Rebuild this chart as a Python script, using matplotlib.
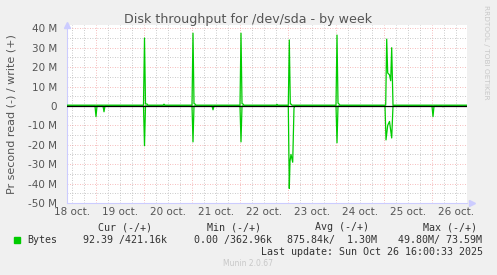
import matplotlib.pyplot as plt
from matplotlib.ticker import MultipleLocator, FuncFormatter

W, H = 497, 275

# time axis in hours since 18 oct 00:00
t_start = 9.5
t_end = 209.5
day_labels = ["18 oct.", "19 oct.", "20 oct.", "21 oct.", "22 oct.",
              "23 oct.", "24 oct.", "25 oct.", "26 oct."]

# write (+) in M bytes/s, read as points in time (hours)
write_t = [9.5, 47.75, 48.25, 48.75, 49.5, 50.0, 57.5, 58.0, 58.5,
           72.0, 72.5, 73.0, 73.5, 74.0, 96.0, 96.5, 97.0, 97.5, 98.0,
           114.0, 114.5, 115.0, 120.15, 120.65, 121.15, 121.5, 122.0,
           144.0, 144.5, 145.0, 145.5, 146.0,
           168.85, 169.35, 169.85, 170.75, 171.35, 171.85, 172.5,
           209.5]
write_v = [0.4, 0.4, 35.0, 1.0, 1.0, 0.4, 0.4, 0.9, 0.4,
           0.4, 37.5, 1.2, 1.0, 0.4, 0.4, 37.5, 1.2, 1.0, 0.4,
           0.4, 0.8, 0.4, 0.4, 34.0, 1.0, 1.0, 0.4,
           0.4, 36.5, 1.5, 1.0, 0.4,
           0.4, 34.4, 17.0, 16.0, 13.0, 30.0, 0.4,
           0.4]

read_t = [9.5, 23.5, 24.0, 24.5, 27.5, 28.0, 28.5,
          47.75, 48.25, 48.75, 72.0, 72.5, 73.0, 82.0, 82.5, 83.0,
          96.0, 96.5, 97.0, 120.15, 120.65, 121.0, 121.5, 122.35, 123.0, 123.5,
          144.0, 144.5, 145.0, 168.5, 169.0, 169.85, 170.75, 171.85, 172.5,
          192.0, 192.5, 193.0, 197.0, 197.5, 198.0, 209.5]
read_v = [0.0, 0.0, -5.5, 0.0, 0.0, -3.0, 0.0,
          0.0, -20.5, 0.0, 0.0, -18.5, 0.0, 0.0, -2.0, 0.0,
          0.0, -18.5, 0.0, 0.0, -42.5, -28.5, -25.0, -29.0, -1.0, 0.0,
          0.0, -19.0, 0.0, 0.0, -17.5, -10.0, -8.0, -16.5, 0.0,
          0.0, -5.5, 0.0, 0.0, -0.4, 0.0, 0.0]

header = ["Cur (-/+)", "Min (-/+)", "Avg (-/+)", "Max (-/+)"]
header_x = [98, 207, 315, 423]
row_vals = ["92.39 /421.16k", "0.00 /362.96k", "875.84k/  1.30M", "49.80M/ 73.59M"]
row_x = [83, 194, 287, 398]

green = "#00CC00"
txt = "#555555"


def px(x, y):
    return x / W, 1 - y / H


fig = plt.figure(figsize=(W / 100, H / 100), dpi=100, facecolor="#F0F0F0")
left, right, top, bottom = 67, 467, 25, 203
ax = fig.add_axes([left / W, 1 - bottom / H, (right - left) / W, (bottom - top) / H])
ax.set_facecolor("white")

ax.plot(write_t, write_v, color=green, lw=0.9, zorder=3)
ax.plot(read_t, read_v, color=green, lw=0.9, zorder=3)
ax.axhline(0, color="black", lw=0.9, zorder=4)

ax.set_xlim(t_start, t_end)
ax.set_ylim(-50, 41.7)

ax.yaxis.set_major_locator(MultipleLocator(10))
ax.yaxis.set_minor_locator(MultipleLocator(5))
ax.yaxis.set_major_formatter(FuncFormatter(lambda v, p: "0" if abs(v) < 1e-9 else "%d M" % v))
ax.xaxis.set_major_locator(MultipleLocator(24))
ax.xaxis.set_minor_locator(MultipleLocator(6))
ax.set_xticklabels([])

ax.grid(which="minor", color="#b8b8b8", ls=(0, (1, 2)), lw=0.6, zorder=1)
ax.grid(which="major", color="#f09090", ls=(0, (1, 2)), lw=0.6, zorder=2, alpha=0.8)
ax.tick_params(which="both", length=0, labelsize=7.5, labelcolor=txt, pad=7)

for i, lab in enumerate(day_labels):
    ax.text(12 + 24 * i, -52.3, lab, ha="center", va="top", fontsize=7.5, color=txt)

for s in ["top", "right"]:
    ax.spines[s].set_visible(False)
for s in ["left", "bottom"]:
    ax.spines[s].set_color("#ccccff")
    ax.spines[s].set_linewidth(0.8)
ax.plot(1.012, 0, marker=">", color="#ccccff", ms=5, transform=ax.transAxes, clip_on=False)
ax.plot(0, 1.0, marker="^", color="#ccccff", ms=5, transform=ax.transAxes, clip_on=False)

fig.text(*px(248, 19), "Disk throughput for /dev/sda - by week", ha="center", va="center",
         fontsize=9.1, color=txt)
fig.text(*px(12, 114), "Pr second read (-) / write (+)", rotation=90, ha="center",
         va="center", fontsize=8.0, color=txt)
fig.text(*px(486, 5), "RRDTOOL / TOBI OETIKER", rotation=270, ha="center", va="top",
         fontsize=5.3, color="#c8c8c8")

mono = "DejaVu Sans Mono"
for h, x in zip(header, header_x):
    fig.text(*px(x, 227), h, ha="left", va="center", family=mono, fontsize=7.2, color="#333333")
fig.patches.append(plt.Rectangle(px(14, 243), 6 / W, 6 / H, color=green,
                                 transform=fig.transFigure, figure=fig))
fig.text(*px(27, 240), "Bytes", ha="left", va="center", family=mono, fontsize=7.2, color="#333333")
for v, x in zip(row_vals, row_x):
    fig.text(*px(x, 240), v, ha="left", va="center", family=mono, fontsize=7.2, color="#333333")
fig.text(*px(483, 252), "Last update: Sun Oct 26 16:00:33 2025", ha="right", va="center",
         family=mono, fontsize=7.2, color="#333333")
fig.text(*px(248, 263), "Munin 2.0.67", ha="center", va="center", fontsize=5.5, color="#c8c8c8")

fig.savefig("out.png", dpi=100, facecolor=fig.get_facecolor())
